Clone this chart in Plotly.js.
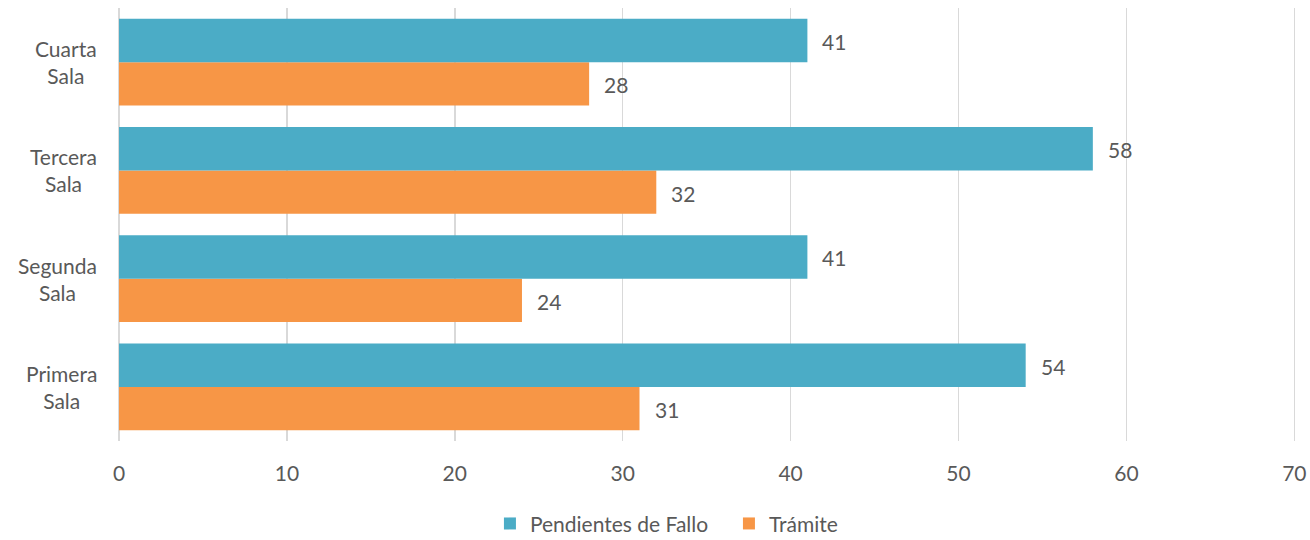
<!DOCTYPE html>
<html>
<head>
<meta charset="utf-8">
<script src="https://cdn.plot.ly/plotly-3.0.1.min.js"></script>
<style>html,body{margin:0;padding:0;background:#fff;}#chart{width:1310px;height:540px;}</style>
</head>
<body>
<div id="chart"></div>
<script>
var categories = ['Primera Sala', 'Segunda Sala', 'Tercera Sala', 'Cuarta Sala'];
var tickLabels = ['Primera<br>Sala', 'Segunda<br>Sala', 'Tercera<br>Sala', 'Cuarta<br>Sala'];
var pendientes = [54, 41, 58, 41];
var tramite = [31, 24, 32, 28];
var seriesNames = ['Pendientes de Fallo', 'Trámite'];
var xTicks = [0, 10, 20, 30, 40, 50, 60, 70];

var fontFam = 'Lato, "Open Sans", sans-serif';
var textColor = '#595959';
var fs = 21;

var traces = [
  {
    type: 'bar', orientation: 'h', name: seriesNames[1], y: categories, x: tramite,
    marker: {color: '#F79646'}, legendrank: 2, hoverinfo: 'x'
  },
  {
    type: 'bar', orientation: 'h', name: seriesNames[0], y: categories, x: pendientes,
    marker: {color: '#4BACC6'}, legendrank: 1, hoverinfo: 'x'
  }
];

var annotations = [];
// category labels (block right-aligned at the axis, lines centred)
categories.forEach(function (c, i) {
  annotations.push({
    xref: 'paper', yref: 'y', x: -0.017, y: c, text: tickLabels[i],
    showarrow: false, xanchor: 'right', yanchor: 'middle', align: 'center',
    font: {family: fontFam, size: fs, color: textColor}
  });
});
// data labels
var barHalf = 21.7;
categories.forEach(function (c, i) {
  annotations.push({
    xref: 'x', yref: 'y', x: pendientes[i], y: c, text: String(pendientes[i]),
    showarrow: false, xanchor: 'left', yanchor: 'middle', xshift: 13, yshift: barHalf - 1,
    font: {family: fontFam, size: fs, color: textColor}
  });
  annotations.push({
    xref: 'x', yref: 'y', x: tramite[i], y: c, text: String(tramite[i]),
    showarrow: false, xanchor: 'left', yanchor: 'middle', xshift: 13, yshift: -barHalf - 1,
    font: {family: fontFam, size: fs, color: textColor}
  });
});

var layout = {
  width: 1310, height: 540,
  margin: {l: 119, r: 14, t: 8, b: 99},
  paper_bgcolor: '#fff', plot_bgcolor: '#fff',
  font: {family: fontFam, size: fs, color: textColor},
  barmode: 'group', bargap: 0.2, bargroupgap: 0,
  showlegend: true,
  legend: {orientation: 'h', xref: 'container', x: 0.374, xanchor: 'left', yref: 'container', y: 0.03, yanchor: 'middle',
           font: {family: fontFam, size: fs, color: textColor}, itemwidth: 30, entrywidth: 194, traceorder: 'normal'},
  annotations: annotations,
  xaxis: {
    range: [0, 70.1], tickvals: xTicks, ticktext: xTicks.map(String),
    showgrid: true, gridcolor: '#d9d9d9', gridwidth: 1.5,
    zeroline: true, zerolinecolor: '#d9d9d9', zerolinewidth: 1.5,
    showline: false, ticks: 'outside', ticklen: 14, tickcolor: 'rgba(0,0,0,0)',
    tickfont: {family: fontFam, size: fs, color: textColor},
    fixedrange: true
  },
  yaxis: {
    type: 'category', categoryorder: 'array', categoryarray: categories,
    showticklabels: false,
    showgrid: false, zeroline: false, showline: false,
    fixedrange: true
  }
};

Plotly.newPlot('chart', traces, layout, {displayModeBar: false, staticPlot: true});
</script>
</body>
</html>
